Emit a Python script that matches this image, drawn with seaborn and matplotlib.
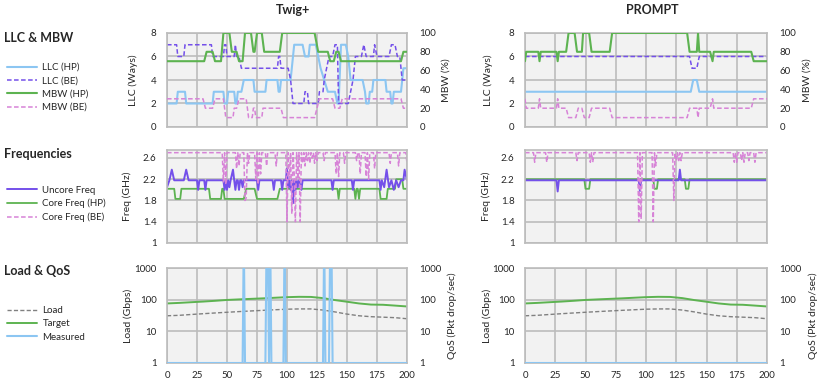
import matplotlib
matplotlib.use("Agg")
import matplotlib.pyplot as plt
from matplotlib.ticker import FixedLocator, NullLocator, FixedFormatter
from matplotlib.lines import Line2D
import pandas as pd
import seaborn as sns

# ---------------- data ----------------
x_ticks = [0, 25, 50, 75, 100, 125, 150, 175, 200]
llc_ticks = [0, 2, 4, 6, 8]
mbw_ticks = [0, 20, 40, 60, 80, 100]
freq_ticks = [1, 1.4, 1.8, 2.2, 2.6]
log_ticks = [1, 10, 100, 1000]

# Twig+ : LLC (ways) / MBW (%)  -- (time, value)
twig_llc_hp = [(0, 2), (8, 2), (9, 3), (15, 3), (16, 2), (38, 2), (39, 3), (47, 3), (48, 2), (50, 2),
               (51, 3), (56, 3), (57, 2), (58, 2), (59, 3), (62, 3), (64, 4), (72, 4), (73, 3), (82, 3),
               (83, 4), (92, 4), (93, 3), (94, 3), (95, 4), (103, 4), (106, 7), (113, 7), (115, 6), (118, 6),
               (119, 7), (124, 7), (126, 6), (128, 5), (131, 4), (134, 3), (140, 3), (142, 2), (143, 2), (145, 7),
               (149, 7), (151, 6), (153, 4), (163, 4), (165, 3), (166, 2), (168, 2), (169, 3), (171, 3), (172, 4),
               (182, 4), (183, 3), (186, 3), (187, 2), (188, 2), (189, 3), (195, 3), (196, 4), (197, 5), (200, 5)]
twig_llc_be = [(0, 7), (8, 7), (9, 6), (14, 6), (15, 7), (37, 7), (38, 6), (47, 6), (48, 7), (49, 7),
               (50, 6), (56, 6), (57, 7), (58, 6), (60, 6), (62, 5), (92, 5), (93, 6), (94, 6), (95, 5),
               (101, 5), (103, 4), (105, 2), (114, 2), (115, 3), (117, 3), (118, 2), (126, 2), (127, 3), (130, 3),
               (131, 4), (133, 5), (135, 6), (138, 6), (140, 7), (142, 7), (143, 2), (151, 2), (153, 3), (155, 4),
               (157, 6), (162, 6), (164, 7), (166, 6), (172, 6), (173, 7), (175, 6), (185, 6), (187, 7), (190, 7),
               (192, 6), (194, 6), (196, 4), (200, 4)]
twig_mbw_hp = [(0, 70), (31, 70), (33, 80), (38, 80), (40, 70), (45, 70), (47, 100), (52, 100), (54, 80), (58, 80),
               (60, 70), (63, 70), (65, 100), (70, 100), (72, 80), (73, 80), (75, 100), (79, 100), (81, 80), (94, 80),
               (96, 100), (123, 100), (126, 80), (134, 80), (136, 70), (139, 70), (141, 80), (143, 80), (145, 70),
               (195, 70), (197, 80), (200, 80)]
twig_mbw_be = [(0, 30), (30, 30), (32, 20), (38, 20), (40, 30), (47, 30), (49, 10), (55, 10), (56, 20), (58, 20),
               (60, 30), (66, 30), (68, 10), (71, 10), (72, 20), (73, 20), (74, 10), (79, 10), (80, 20), (95, 20),
               (97, 10), (123, 10), (125, 20), (127, 30), (138, 30), (140, 20), (144, 20), (146, 30), (195, 30),
               (197, 20), (200, 20)]

# PROMPT : LLC / MBW
prompt_llc_hp = [(0, 3), (137, 3), (139, 4), (142, 4), (144, 3), (200, 3)]
prompt_llc_be = [(0, 6), (136, 6), (138, 5), (142, 5), (144, 6), (200, 6)]
prompt_mbw_hp = [(0, 70), (1, 80), (11, 80), (12, 70), (13, 80), (26, 80), (27, 70), (28, 80), (34, 80), (36, 100),
                 (41, 100), (43, 80), (47, 80), (48, 100), (53, 100), (55, 80), (70, 80), (72, 100), (134, 100),
                 (136, 80), (142, 80), (143, 100), (144, 80), (153, 80), (155, 70), (156, 80), (187, 80), (189, 70),
                 (200, 70)]
prompt_mbw_be = [(0, 30), (1, 20), (11, 20), (12, 30), (13, 20), (26, 20), (27, 30), (28, 20), (34, 20), (36, 10),
                 (42, 10), (44, 20), (47, 20), (49, 10), (53, 10), (55, 20), (70, 20), (72, 10), (134, 10),
                 (136, 20), (142, 20), (143, 10), (144, 20), (153, 20), (155, 30), (156, 20), (187, 20), (189, 30),
                 (200, 30)]

# Frequencies (GHz)
twig_uncore = [(0, 2.05), (2, 2.18), (4, 2.38), (6, 2.18), (14, 2.18), (16, 2.38), (18, 2.18), (25, 2.18), (26, 2.0),
               (27, 2.18), (31, 2.18), (32, 2.0), (33, 2.18), (47, 2.18), (48, 2.0), (49, 2.18), (50, 2.0), (51, 2.18),
               (52, 2.05), (53, 2.18), (55, 2.38), (56, 2.18), (57, 2.0), (58, 2.18), (59, 2.18), (60, 2.0), (61, 2.18),
               (62, 2.18), (63, 2.05), (64, 2.18), (75, 2.18), (76, 2.0), (77, 2.18), (88, 2.18), (89, 2.0), (90, 2.18),
               (95, 2.18), (96, 2.0), (97, 2.18), (99, 2.18), (100, 2.4), (101, 2.05), (102, 2.18), (103, 2.0),
               (104, 2.18), (105, 1.75), (106, 2.18), (107, 2.0), (108, 2.18), (109, 2.05), (110, 2.18), (112, 2.0),
               (113, 2.18), (137, 2.18), (138, 2.0), (139, 2.18), (154, 2.18), (155, 2.0), (156, 2.18), (177, 2.18),
               (178, 2.0), (179, 2.18), (181, 2.05), (183, 2.38), (185, 2.05), (187, 2.18), (189, 2.0), (191, 2.18),
               (193, 2.05), (195, 2.18), (197, 2.18), (198, 2.38), (200, 2.18)]
twig_core_hp = [(0, 2.02), (6, 2.02), (7, 1.83), (11, 1.83), (12, 2.02), (35, 2.02), (36, 1.83), (45, 1.83),
                (46, 2.02), (47, 2.02), (48, 1.83), (64, 1.83), (66, 2.02), (73, 2.02), (75, 1.83), (92, 1.83),
                (94, 2.02), (142, 2.02), (143, 1.83), (144, 2.02), (156, 2.02), (157, 1.83), (158, 2.02), (159, 2.02),
                (160, 1.83), (161, 2.02), (177, 2.02), (178, 1.83), (183, 1.83), (184, 2.02), (190, 2.02), (191, 2.2),
                (196, 2.2), (197, 2.02), (200, 2.02)]
twig_core_be = [(0, 2.7), (46, 2.7), (47, 2.15), (48, 2.7), (49, 2.1), (50, 2.7), (57, 2.7), (58, 2.4), (59, 2.7),
                (60, 2.45), (61, 2.7), (64, 2.7), (65, 1.8), (66, 1.85), (67, 2.7), (68, 2.5), (69, 2.7), (73, 2.7),
                (74, 2.2), (75, 2.7), (76, 2.1), (77, 2.7), (78, 2.3), (79, 2.7), (82, 2.7), (83, 2.45), (84, 2.7),
                (90, 2.7), (91, 2.45), (92, 2.7), (99, 2.7), (100, 1.4), (101, 2.7), (102, 2.2), (103, 2.7),
                (104, 1.55), (105, 2.7), (106, 2.3), (107, 1.4), (108, 2.7), (109, 2.2), (110, 2.7), (111, 1.4),
                (112, 2.7), (113, 2.5), (114, 2.7), (115, 2.45), (116, 2.7), (117, 2.55), (118, 2.7), (119, 2.5),
                (120, 2.7), (121, 2.6), (122, 2.7), (123, 2.5), (124, 2.7), (125, 2.55), (126, 2.7), (130, 2.7),
                (131, 2.55), (132, 2.7), (140, 2.7), (141, 2.3), (142, 2.7), (143, 2.25), (144, 2.7), (147, 2.7),
                (148, 2.5), (149, 2.7), (157, 2.7), (158, 2.55), (159, 2.7), (160, 2.7), (161, 2.3), (162, 2.7),
                (165, 2.7), (166, 2.25), (167, 2.7), (168, 2.2), (169, 2.7), (172, 2.7), (173, 2.4), (174, 2.7),
                (185, 2.7), (186, 2.5), (187, 2.7), (192, 2.7), (193, 2.45), (194, 2.7), (199, 2.7), (200, 2.5)]
prompt_uncore = [(0, 2.18), (26, 2.18), (27, 1.97), (28, 2.18), (94, 2.18), (95, 1.98), (96, 2.18),
                 (127, 2.18), (128, 2.38), (129, 2.18), (200, 2.18)]
prompt_core_hp = [(0, 2.2), (49, 2.2), (50, 2.02), (53, 2.02), (54, 2.2), (106, 2.2), (107, 2.02), (109, 2.02),
                  (110, 2.2), (132, 2.2), (133, 2.02), (135, 2.02), (136, 2.2), (200, 2.2)]
prompt_core_be = [(0, 2.7), (7, 2.7), (8, 2.52), (9, 2.7), (17, 2.7), (18, 2.52), (19, 2.7), (42, 2.7), (43, 2.55),
                  (44, 2.7), (53, 2.7), (54, 2.52), (55, 2.7), (56, 2.52), (57, 2.7), (93, 2.7), (94, 1.4), (95, 2.7),
                  (96, 1.45), (97, 2.7), (105, 2.7), (106, 1.4), (107, 2.7), (108, 2.45), (109, 2.7), (122, 2.7),
                  (123, 1.8), (124, 2.7), (125, 2.55), (126, 2.7), (127, 2.55), (128, 2.7), (129, 2.55), (130, 2.7),
                  (172, 2.7), (173, 2.52), (174, 2.7), (175, 2.52), (176, 2.7), (178, 2.7), (179, 2.55), (180, 2.7),
                  (181, 2.52), (182, 2.7), (184, 2.7), (185, 2.55), (186, 2.7), (189, 2.7), (190, 2.52), (191, 2.7),
                  (200, 2.7)]

# Load & QoS
load_t = [0, 10, 20, 30, 40, 50, 60, 70, 80, 90, 100, 110, 120, 130, 140, 150, 160, 170, 180, 190, 200]
load_gbps = [31, 32, 34, 36, 38, 40, 42, 44, 46, 48, 50, 51, 51, 47, 41, 35, 31, 29, 28, 27, 25]
target_gbps = [76, 79, 83, 87, 92, 98, 102, 106, 110, 115, 120, 123, 122, 112, 97, 86, 76, 70, 69, 65, 61]
twig_measured = [(0, 1), (63, 1), (64, 10000), (65, 1), (82, 1), (83, 10000), (84, 10000), (85, 1), (86, 10000),
                 (87, 1), (97, 1), (98, 10000), (99, 1), (130, 1), (131, 10000), (132, 1), (135, 1), (136, 10000),
                 (137, 10000), (138, 1), (200, 1)]
prompt_measured = [(0, 1), (200, 1)]

# ---------------- style ----------------
sns.set_theme(style="white")
plt.rcParams['font.family'] = ['Lato', 'DejaVu Sans']

BG = "#f2f2f2"
GRID = "#bcbcbc"
TXT = "#262626"
C_BLUE = "#8cc6f2"
C_PURPLE = "#7450ea"
C_GREEN = "#5db351"
C_PINK = "#d783d7"
C_GRAY = "#808080"
DASH = (0, (3, 1.6))

W, H = 822, 390
fig = plt.figure(figsize=(W / 100, H / 100), dpi=100)


def rect(x0, x1, ytop, ybot):
    return [x0 / W, 1 - ybot / H, (x1 - x0) / W, (ybot - ytop) / H]


def draw(ax, pts, color, lw, ls='-'):
    df = pd.DataFrame(pts, columns=['t', 'v'])
    sns.lineplot(data=df, x='t', y='v', ax=ax, color=color, linewidth=lw, linestyle=ls,
                 estimator=None, sort=False, legend=False)


def style(ax, ylim, yticks, ylabels, xlabels, log=False, pad=7.5):
    ax.set_facecolor(BG)
    if log:
        ax.set_yscale('log')
    ax.set_xlim(0, 200)
    ax.set_ylim(*ylim)
    ax.xaxis.set_major_locator(FixedLocator(x_ticks))
    ax.xaxis.set_major_formatter(FixedFormatter([str(v) for v in x_ticks] if xlabels else [''] * len(x_ticks)))
    ax.yaxis.set_major_locator(FixedLocator(yticks))
    ax.yaxis.set_major_formatter(FixedFormatter(ylabels))
    ax.xaxis.set_minor_locator(NullLocator())
    ax.yaxis.set_minor_locator(NullLocator())
    ax.grid(True, which='major', color=GRID, linewidth=1.2)
    ax.set_axisbelow(True)
    for s in ax.spines.values():
        s.set_color(GRID)
        s.set_linewidth(1.2)
    ax.tick_params(axis='both', length=0, labelsize=7, colors=TXT, pad=pad)
    ax.set_xlabel('')


def twin_style(ax2, ylim, yticks, ylabels, log=False, pad=9):
    if log:
        ax2.set_yscale('log')
    ax2.set_ylim(*ylim)
    ax2.yaxis.set_major_locator(FixedLocator(yticks))
    ax2.yaxis.set_major_formatter(FixedFormatter(ylabels))
    ax2.yaxis.set_minor_locator(NullLocator())
    ax2.grid(False)
    for s in ax2.spines.values():
        s.set_visible(False)
    ax2.tick_params(axis='both', length=0, labelsize=7, colors=TXT, pad=pad)
    ax2.set_xlabel('')


def ylabel(ax, text, xfrac):
    ax.set_ylabel(text, fontsize=7.5, color=TXT)
    ax.yaxis.label.set_va('center')
    ax.yaxis.set_label_coords(xfrac, 0.5)


cols = [(167, 407), (525, 767)]
rows = [(33, 127), (150, 243), (268, 363)]
series = [
    dict(llc_hp=twig_llc_hp, llc_be=twig_llc_be, mbw_hp=twig_mbw_hp, mbw_be=twig_mbw_be,
         unc=twig_uncore, chp=twig_core_hp, cbe=twig_core_be, meas=twig_measured),
    dict(llc_hp=prompt_llc_hp, llc_be=prompt_llc_be, mbw_hp=prompt_mbw_hp, mbw_be=prompt_mbw_be,
         unc=prompt_uncore, chp=prompt_core_hp, cbe=prompt_core_be, meas=prompt_measured),
]
lab_x = [dict(llc=-0.142, mbw=1.1625, freq=-0.167, load=-0.1625, qos=1.1875),
         dict(llc=-0.153, mbw=1.165, freq=-0.161, load=-0.158, qos=1.19)]

for ci, (x0, x1) in enumerate(cols):
    d = series[ci]
    # --- row 1: LLC & MBW
    ax = fig.add_axes(rect(x0, x1, *rows[0]))
    draw(ax, d['llc_hp'], C_BLUE, 1.5)
    draw(ax, d['llc_be'], C_PURPLE, 1.1, DASH)
    style(ax, (0, 8), llc_ticks, [str(v) for v in llc_ticks], False)
    ylabel(ax, 'LLC (Ways)', lab_x[ci]['llc'])
    ax2 = ax.twinx()
    draw(ax2, d['mbw_hp'], C_GREEN, 1.5)
    draw(ax2, d['mbw_be'], C_PINK, 1.1, DASH)
    twin_style(ax2, (0, 100), mbw_ticks, [str(v) for v in mbw_ticks])
    ylabel(ax2, 'MBW (%)', lab_x[ci]['mbw'])

    # --- row 2: frequencies
    ax = fig.add_axes(rect(x0, x1, *rows[1]))
    draw(ax, d['chp'], C_GREEN, 1.3)
    draw(ax, d['unc'], C_PURPLE, 1.4)
    draw(ax, d['cbe'], C_PINK, 1.1, DASH)
    style(ax, (1, 2.75), freq_ticks, ['1', '1.4', '1.8', '2.2', '2.6'], False)
    ylabel(ax, 'Freq (GHz)', lab_x[ci]['freq'])

    # --- row 3: load & QoS
    ax = fig.add_axes(rect(x0, x1, *rows[2]))
    draw(ax, list(zip(load_t, load_gbps)), C_GRAY, 1.0, DASH)
    draw(ax, list(zip(load_t, target_gbps)), C_GREEN, 1.4)
    style(ax, (1, 1000), log_ticks, [str(v) for v in log_ticks], True, log=True)
    ylabel(ax, 'Load (Gbps)', lab_x[ci]['load'])
    ax.tick_params(axis='x', pad=6)
    ax2 = ax.twinx()
    draw(ax2, d['meas'], C_BLUE, 1.5)
    twin_style(ax2, (1, 1000), log_ticks, [str(v) for v in log_ticks], log=True)
    ylabel(ax2, 'QoS (Pkt drop/sec)', lab_x[ci]['qos'])

# titles
fig.text(293 / W, 1 - 10 / H, 'Twig+', ha='center', va='center', fontsize=9, fontweight='bold', color=TXT)
fig.text(652 / W, 1 - 10 / H, 'PROMPT', ha='center', va='center', fontsize=9, fontweight='bold', color=TXT)

# section labels
for txt, yc in [('LLC & MBW', 37.5), ('Frequencies', 154), ('Load & QoS', 271)]:
    fig.text(4 / W, 1 - yc / H, txt, ha='left', va='center', fontsize=9, fontweight='bold', color=TXT)


def legend(entries, ycenter):
    handles = [Line2D([], [], color=c, lw=lw, linestyle=ls) for (_, c, lw, ls) in entries]
    labels = [e[0] for e in entries]
    fig.legend(handles, labels, loc='center left', bbox_to_anchor=(7 / W, 1 - ycenter / H),
               frameon=False, fontsize=7, handlelength=3.1, handletextpad=0.55, labelspacing=0.45,
               borderpad=0, borderaxespad=0, labelcolor=TXT)


legend([('LLC (HP)', C_BLUE, 1.5, '-'), ('LLC (BE)', C_PURPLE, 1.1, DASH),
        ('MBW (HP)', C_GREEN, 1.5, '-'), ('MBW (BE)', C_PINK, 1.1, DASH)], 87.5)
legend([('Uncore Freq', C_PURPLE, 1.4, '-'), ('Core Freq (HP)', C_GREEN, 1.3, '-'),
        ('Core Freq (BE)', C_PINK, 1.1, DASH)], 204)
legend([('Load', C_GRAY, 1.0, DASH), ('Target', C_GREEN, 1.4, '-'),
        ('Measured', C_BLUE, 1.5, '-')], 324)

fig.savefig('out.png', dpi=100)
